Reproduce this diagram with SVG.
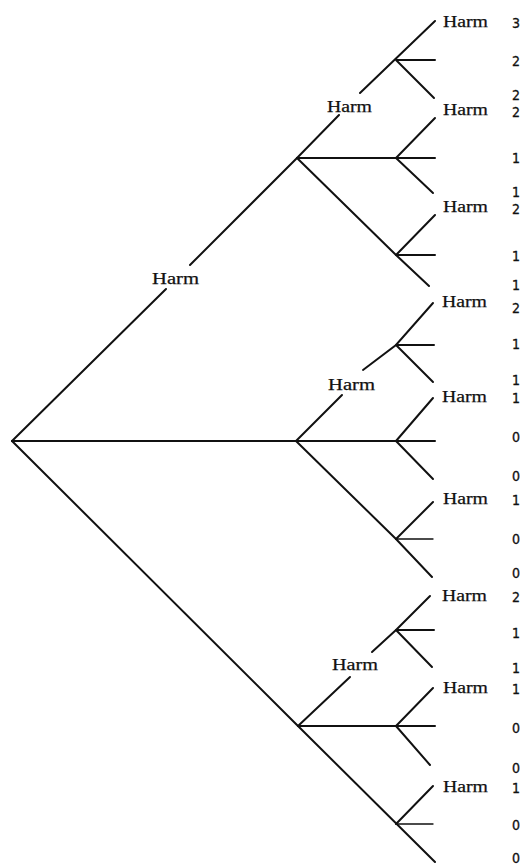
<svg xmlns="http://www.w3.org/2000/svg" width="523" height="866" viewBox="0 0 523 866">
<style>
.e{stroke:#111;stroke-width:2;fill:none;stroke-linecap:round}
.t{stroke-width:1.3}
.h{font-family:"Liberation Serif","Times New Roman",serif;font-size:17px;fill:#111;stroke:#111;stroke-width:0.25}
.n{font-family:"DejaVu Sans Condensed","DejaVu Sans",sans-serif;font-size:14px;fill:#111;stroke:#111;stroke-width:0.3;text-anchor:middle}
</style>
<rect width="523" height="866" fill="#fff"/>
<g id="connectors">
<path class="e" d="M12,441 L166,289 M190,265 L297,158 L339,115 M360,93 L435,21"/>
<path class="e" d="M12,441 L435,441"/>
<path class="e" d="M12,441 L298,726 L435,862"/>
<path class="e" d="M297,158 L435,158"/>
<path class="e" d="M297,158 L396,255 L429,286"/>
<path class="e" d="M396,60 L435,60 M396,60 L434,98"/>
<path class="e" d="M396,158 L435,118 M396,158 L433,193"/>
<path class="e" d="M396,255 L435,215 M396,255 L435,255"/>
<path class="e" d="M296,441 L342,395 M363,370 L396,345 L433,303"/>
<path class="e" d="M296,441 L396,539 L432,577"/>
<path class="e" d="M396,345 L434,345 M396,345 L433,382"/>
<path class="e" d="M396,441 L433,398 M396,441 L433,479"/>
<path class="e" d="M396,539 L433,502"/>
<path class="e t" d="M396,539 L433,539"/>
<path class="e" d="M298,726 L350,677 M372,652 L396,630 L430,596"/>
<path class="e" d="M298,726 L435,726"/>
<path class="e" d="M396,630 L434,630 M396,630 L432,667"/>
<path class="e" d="M396,726 L433,688 M396,726 L430,765"/>
<path class="e" d="M396,824 L433,786"/>
<path class="e t" d="M396,824 L433,824"/>
</g>
<g id="branch-labels">
<text class="h" x="152" y="284" textLength="47" lengthAdjust="spacingAndGlyphs">Harm</text>
<text class="h" x="327" y="112" textLength="45" lengthAdjust="spacingAndGlyphs">Harm</text>
<text class="h" x="328" y="390" textLength="47" lengthAdjust="spacingAndGlyphs">Harm</text>
<text class="h" x="332" y="670" textLength="46" lengthAdjust="spacingAndGlyphs">Harm</text>
</g>
<g id="leaf-labels">
<text class="h" x="443" y="27" textLength="45" lengthAdjust="spacingAndGlyphs">Harm</text>
<text class="h" x="443" y="115" textLength="45" lengthAdjust="spacingAndGlyphs">Harm</text>
<text class="h" x="443" y="212" textLength="45" lengthAdjust="spacingAndGlyphs">Harm</text>
<text class="h" x="442" y="307" textLength="45" lengthAdjust="spacingAndGlyphs">Harm</text>
<text class="h" x="442" y="402" textLength="45" lengthAdjust="spacingAndGlyphs">Harm</text>
<text class="h" x="443" y="504" textLength="45" lengthAdjust="spacingAndGlyphs">Harm</text>
<text class="h" x="442" y="601" textLength="45" lengthAdjust="spacingAndGlyphs">Harm</text>
<text class="h" x="443" y="693" textLength="45" lengthAdjust="spacingAndGlyphs">Harm</text>
<text class="h" x="443" y="792" textLength="45" lengthAdjust="spacingAndGlyphs">Harm</text>
</g>
<g id="scores">
<text class="n" x="516" y="28">3</text>
<text class="n" x="516" y="66">2</text>
<text class="n" x="516" y="100">2</text>
<text class="n" x="516" y="117">2</text>
<text class="n" x="516" y="163">1</text>
<text class="n" x="516" y="197">1</text>
<text class="n" x="516" y="214">2</text>
<text class="n" x="516" y="261">1</text>
<text class="n" x="516" y="290">1</text>
<text class="n" x="516" y="313">2</text>
<text class="n" x="516" y="349">1</text>
<text class="n" x="516" y="385">1</text>
<text class="n" x="516" y="403">1</text>
<text class="n" x="516" y="442">0</text>
<text class="n" x="516" y="481">0</text>
<text class="n" x="516" y="505">1</text>
<text class="n" x="516" y="544">0</text>
<text class="n" x="516" y="578">0</text>
<text class="n" x="516" y="602">2</text>
<text class="n" x="516" y="638">1</text>
<text class="n" x="516" y="673">1</text>
<text class="n" x="516" y="694">1</text>
<text class="n" x="516" y="733">0</text>
<text class="n" x="516" y="773">0</text>
<text class="n" x="516" y="793">1</text>
<text class="n" x="516" y="830">0</text>
<text class="n" x="516" y="863">0</text>
</g>
</svg>
